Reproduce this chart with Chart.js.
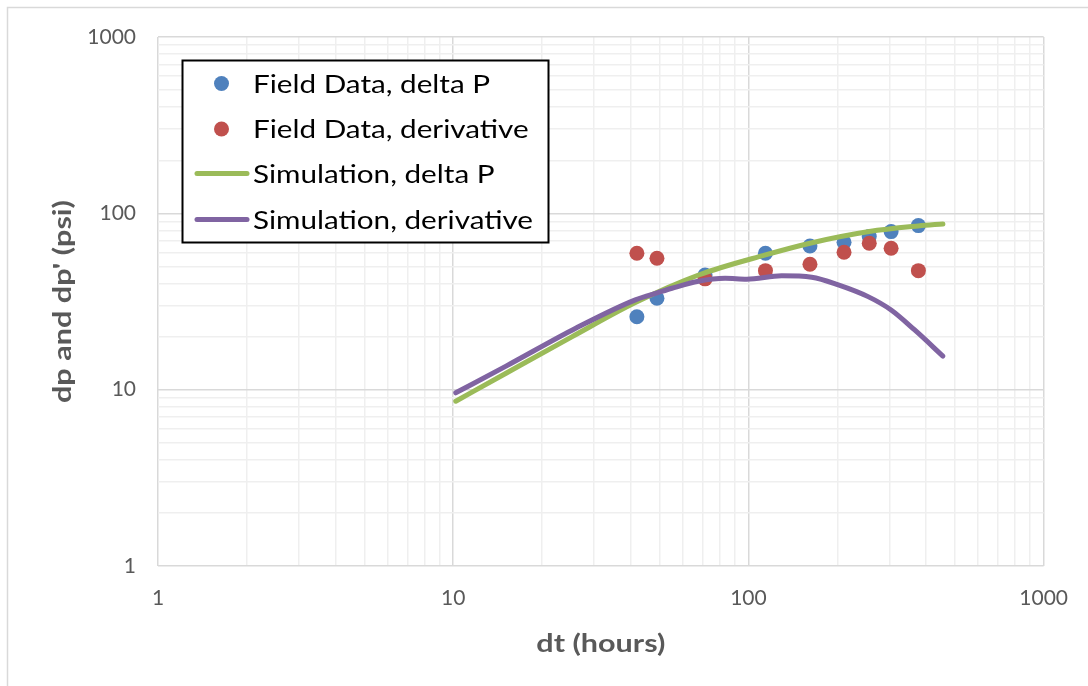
<!DOCTYPE html>
<html>
<head>
<meta charset="utf-8">
<script src="https://cdn.jsdelivr.net/npm/chart.js@4.4.1/dist/chart.umd.min.js"></script>
<style>
  html, body { margin: 0; padding: 0; background: #ffffff; }
  #wrap { width: 1088px; height: 686px; position: relative; }
</style>
</head>
<body>
<div id="wrap"><canvas id="c" width="1088" height="686"></canvas></div>
<script>
// ---- Data ----
const fieldTime       = [41.9, 49.0, 71.3, 114.2, 161.6, 210.8, 256.6, 304.3, 376.5];
const fieldDeltaP     = [25.9, 33.0, 44.7, 59.4, 65.3, 68.6, 73.8, 78.8, 85.2];
const fieldDerivative = [59.4, 55.6, 42.5, 47.3, 51.4, 60.2, 67.7, 63.4, 47.3];

const simDeltaPTime   = [10.2, 15.1, 25.3, 41.4, 67.8, 114.2, 161.6, 256.6, 376.5, 455.8];
const simDeltaP       = [8.6, 12.4, 20.0, 31.2, 44.7, 58.1, 67.7, 78.8, 84.8, 87.1];

const simDerivTime    = [10.2, 15.1, 26.0, 41.4, 49.6, 55.1, 67.8, 83.4, 98.7, 129.6, 163.8, 201.5, 254.3, 304.3, 365.7, 455.8];
const simDerivative   = [9.6, 13.6, 22.3, 32.3, 35.6, 37.6, 41.2, 42.8, 42.3, 44.2, 43.4, 39.3, 33.7, 28.3, 21.8, 15.5];

const seriesLabels = ['Field Data, delta P', 'Field Data, derivative', 'Simulation, delta P', 'Simulation, derivative'];
const axisTickValues = [1,2,3,4,5,6,7,8,9,10,20,30,40,50,60,70,80,90,100,200,300,400,500,600,700,800,900,1000];
const xTitle = 'dt (hours)';
const yTitle = "dp and dp' (psi)";

// ---- helpers ----
const toXY = (xs, ys) => xs.map((x, i) => ({ x: x, y: ys[i] }));
const isPow10 = v => Math.abs(Math.log10(v) - Math.round(Math.log10(v))) < 1e-9;

const FONT = 'Lato, Carlito, Calibri, "Open Sans", sans-serif';

// draws text stretched along its direction so that it spans the given length
function stretchedText(ctx, text, cx, cy, length, angle) {
  const w = ctx.measureText(text).width;
  ctx.save();
  ctx.translate(cx, cy);
  ctx.rotate(angle);
  ctx.scale(length / w, 1);
  ctx.textAlign = 'center';
  ctx.textBaseline = 'middle';
  ctx.fillText(text, 0, 0);
  ctx.restore();
}

const frameAndLegend = {
  id: 'frameAndLegend',
  beforeDraw(chart) {
    const ctx = chart.ctx;
    ctx.save();
    ctx.fillStyle = '#ffffff';
    ctx.fillRect(0, 0, chart.width, chart.height);
    ctx.strokeStyle = '#d9d9d9';
    ctx.lineWidth = 1.5;
    ctx.beginPath();
    ctx.moveTo(7.5, chart.height);
    ctx.lineTo(7.5, 7.5);
    ctx.lineTo(chart.width, 7.5);
    ctx.stroke();
    ctx.restore();
  },
  afterDraw(chart) {
    const ctx = chart.ctx;
    const area = chart.chartArea;
    ctx.save();
    // axis titles
    ctx.fillStyle = '#595959';
    ctx.font = 'bold 25px ' + FONT;
    stretchedText(ctx, xTitle, (area.left + area.right) / 2, 644, 129, 0);
    stretchedText(ctx, yTitle, 63, (area.top + area.bottom) / 2, 203, -Math.PI / 2);

    // legend box
    const bx = 182.5, by = 60.5, bw = 366, bh = 182;
    ctx.fillStyle = '#ffffff';
    ctx.fillRect(bx, by, bw, bh);
    ctx.strokeStyle = '#000000';
    ctx.lineWidth = 2;
    ctx.strokeRect(bx, by, bw, bh);
    const rows = [83.5, 129, 173.5, 219.5];
    ctx.font = '25px ' + FONT;
    const longest = seriesLabels.reduce((a, b) => ctx.measureText(b).width > ctx.measureText(a).width ? b : a);
    const sx = 280 / ctx.measureText(longest).width;
    chart.data.datasets.forEach((ds, i) => {
      const y = rows[i];
      if (ds.showLine) {
        ctx.strokeStyle = ds.borderColor;
        ctx.lineWidth = 5;
        ctx.lineCap = 'round';
        ctx.beginPath();
        ctx.moveTo(197, y);
        ctx.lineTo(247, y);
        ctx.stroke();
      } else {
        ctx.fillStyle = ds.backgroundColor;
        ctx.beginPath();
        ctx.arc(221.5, y, 7.5, 0, Math.PI * 2);
        ctx.fill();
      }
      ctx.fillStyle = '#000000';
      ctx.save();
      ctx.translate(253, y + 1);
      ctx.scale(sx, 1);
      ctx.textAlign = 'left';
      ctx.textBaseline = 'middle';
      ctx.fillText(ds.label, 0, 0);
      ctx.restore();
    });
    ctx.restore();
  }
};

function logAxis(isX) {
  return {
    type: 'logarithmic',
    min: 1,
    max: 1000,
    afterBuildTicks(scale) {
      scale.ticks = axisTickValues.map(v => ({ value: v, major: isPow10(v) }));
    },
    afterFit(scale) {
      if (isX) scale.height = 120; else scale.width = 158;
    },
    border: { display: false },
    grid: {
      drawTicks: false,
      color: c => (c.tick && isPow10(c.tick.value)) ? '#d9d9d9' : '#efefef',
      lineWidth: 1.5
    },
    ticks: {
      autoSkip: false,
      maxRotation: 0,
      minRotation: 0,
      padding: isX ? 20 : 22,
      color: '#595959',
      font: { family: FONT, size: 21 },
      callback: v => isPow10(v) ? String(Math.round(v)) : ''
    },
    title: { display: false }
  };
}

new Chart(document.getElementById('c'), {
  type: 'scatter',
  data: {
    datasets: [
      {
        label: seriesLabels[0],
        data: toXY(fieldTime, fieldDeltaP),
        showLine: false,
        backgroundColor: '#4f81bd',
        borderColor: '#4f81bd',
        borderWidth: 0,
        pointRadius: 7.5,
        order: 3
      },
      {
        label: seriesLabels[1],
        data: toXY(fieldTime, fieldDerivative),
        showLine: false,
        backgroundColor: '#c0504d',
        borderColor: '#c0504d',
        borderWidth: 0,
        pointRadius: 7.5,
        order: 2
      },
      {
        label: seriesLabels[2],
        data: toXY(simDeltaPTime, simDeltaP),
        showLine: true,
        borderColor: '#9bbb59',
        backgroundColor: '#9bbb59',
        borderWidth: 5,
        borderCapStyle: 'round',
        pointRadius: 0,
        cubicInterpolationMode: 'monotone',
        order: 1
      },
      {
        label: seriesLabels[3],
        data: toXY(simDerivTime, simDerivative),
        showLine: true,
        borderColor: '#8064a2',
        backgroundColor: '#8064a2',
        borderWidth: 5,
        borderCapStyle: 'round',
        pointRadius: 0,
        cubicInterpolationMode: 'monotone',
        order: 0
      }
    ]
  },
  options: {
    responsive: false,
    animation: false,
    layout: { padding: { top: 37, right: 42, left: 0, bottom: 0 } },
    plugins: {
      legend: { display: false },
      tooltip: { enabled: false }
    },
    scales: {
      x: logAxis(true),
      y: logAxis(false)
    }
  },
  plugins: [frameAndLegend]
});
</script>
</body>
</html>
